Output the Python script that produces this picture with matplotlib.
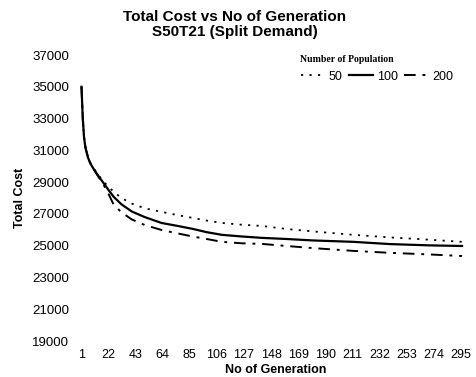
import matplotlib
matplotlib.use("Agg")
import matplotlib.pyplot as plt

plt.rcParams['font.family'] = ['Liberation Sans', 'DejaVu Sans']

title_lines = ["Total Cost vs No of Generation", "S50T21 (Split Demand)"]
x_label = "No of Generation"
y_label = "Total Cost"
legend_title = "Number of Population"

gens = [1, 2, 3, 4, 6, 8, 11, 14, 18, 22, 26, 32, 40, 50, 63, 75, 87, 98,
        110, 125, 141, 160, 180, 212, 240, 270, 296]

pop50 = [35000, 33000, 31850, 31250, 30600, 30200, 29800, 29450, 29050, 28700,
         28390, 28000, 27650, 27350, 27130, 26930, 26750, 26580, 26430, 26320,
         26240, 26050, 25900, 25680, 25520, 25380, 25240]
pop100 = [35000, 33000, 31800, 31200, 30550, 30150, 29750, 29400, 28950, 28500,
          28070, 27600, 27150, 26800, 26430, 26250, 26060, 25850, 25680, 25580,
          25490, 25420, 25330, 25240, 25100, 25020, 24980]
pop200 = [35000, 33000, 31800, 31200, 30550, 30150, 29750, 29350, 28850, 28250,
          27570, 27100, 26650, 26300, 25990, 25780, 25580, 25420, 25240, 25150,
          25110, 24980, 24850, 24670, 24550, 24450, 24350]

x_ticks = [1, 22, 43, 64, 85, 106, 127, 148, 169, 190, 211, 232, 253, 274, 295]
y_ticks = [19000, 21000, 23000, 25000, 27000, 29000, 31000, 33000, 35000, 37000]

W, H = 476, 377
fig = plt.figure(figsize=(W / 100, H / 100), dpi=100)
ax = fig.add_axes([80.2 / W, (H - 341) / H, 388.3 / W, 286 / H])

ax.plot(gens, pop50, color='black', lw=1.3, linestyle=(0, (1.2, 3.5)), label='50')
ax.plot(gens, pop100, color='black', lw=1.6, linestyle='-', label='100')
ax.plot(gens, pop200, color='black', lw=1.4, linestyle=(0, (6, 3.5, 1.5, 3.5)), label='200')

ax.set_xlim(0, 301)
ax.set_ylim(19000, 37000)
ax.set_xticks(x_ticks)
ax.set_xticklabels([str(t) for t in x_ticks], fontsize=9)
ax.set_yticks(y_ticks)
ax.set_yticklabels([str(t) for t in y_ticks], fontsize=9.5)
ax.tick_params(axis='both', length=0)
ax.tick_params(axis='y', pad=8)
ax.tick_params(axis='x', pad=6)
for s in ax.spines.values():
    s.set_visible(False)

fig.text(235 / W, 1 - 24.5 / H, "\n".join(title_lines), ha='center', va='center',
         fontsize=11, fontweight='bold', linespacing=1.1)
fig.text(20 / W, 1 - 198 / H, y_label, rotation=90, ha='center', va='center',
         fontsize=9, fontweight='bold')
fig.text(276 / W, 1 - 370 / H, x_label, ha='center', va='center',
         fontsize=9, fontweight='bold')

leg = ax.legend(ncol=3, loc='upper left', bbox_to_anchor=(293 / W, 1 - 48 / H),
                bbox_transform=fig.transFigure, frameon=False, title=legend_title,
                fontsize=9, handlelength=1.9, handletextpad=0.35, columnspacing=0.5,
                borderpad=0.1, alignment='left',
                title_fontproperties={'family': ['Liberation Serif'], 'weight': 'bold', 'size': 7})

fig.savefig("out.png", dpi=100, facecolor='white')
